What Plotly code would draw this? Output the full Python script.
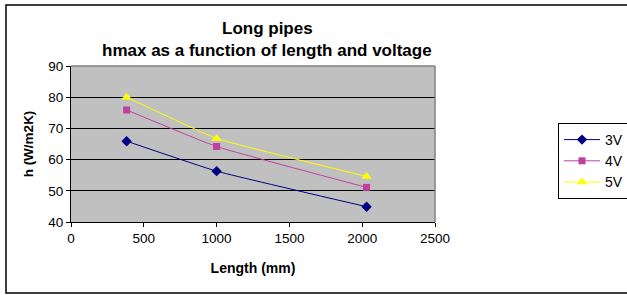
import plotly.graph_objects as go

length_mm = [382, 1000, 2030]
h_3v = [65.9, 56.3, 44.9]
h_4v = [75.9, 64.2, 51.1]
h_5v = [80.0, 66.8, 54.6]
series_names = ["3V", "4V", "5V"]

W, H = 627, 295
L, R, T, B = 71, 192, 66, 73
pw = W - L - R
ph = H - T - B

def px_to_paper_x(px):
    return (px - L) / pw

def px_to_paper_y(py):
    return (H - B - py) / ph

fig = go.Figure()
styles = [
    dict(color="#000080", symbol="diamond", size=8),
    dict(color="#C040A0", symbol="square", size=7),
    dict(color="#FFFF00", symbol="triangle-up", size=9),
]
for name, ys, st in zip(series_names, [h_3v, h_4v, h_5v], styles):
    fig.add_trace(go.Scatter(
        x=length_mm, y=ys, name=name, mode="lines+markers",
        line=dict(color=st["color"], width=1, shape="spline", smoothing=0.35),
        marker=dict(color=st["color"], symbol=st["symbol"], size=st["size"],
                    line=dict(width=0)),
    ))

font = "Arial, Liberation Sans, sans-serif"
fig.update_layout(
    width=W, height=H,
    margin=dict(l=L, r=R, t=T, b=B, autoexpand=False),
    paper_bgcolor="white",
    plot_bgcolor="#C0C0C0",
    font=dict(family=font, size=13.5, color="black"),
    showlegend=True,
    legend=dict(
        x=px_to_paper_x(558), xanchor="left",
        y=px_to_paper_y(123), yanchor="top",
        bordercolor="black", borderwidth=1,
        bgcolor="white",
        font=dict(size=14),
        itemwidth=36,
        tracegroupgap=0,
    ),
    xaxis=dict(
        range=[0, 2500], tickvals=[0, 500, 1000, 1500, 2000, 2500],
        showgrid=False, zeroline=False,
        showline=True, linecolor="black", linewidth=1,
        ticks="outside", ticklen=4, tickcolor="black",
        title=dict(text="<b>Length (mm)</b>", font=dict(size=14), standoff=17),
    ),
    yaxis=dict(
        range=[40, 90], tickvals=[40, 50, 60, 70, 80, 90],
        showgrid=True, gridcolor="black", gridwidth=1,
        zeroline=False,
        showline=True, linecolor="black", linewidth=1,
        ticks="outside", ticklen=4, tickcolor="black",
        title=dict(text="<b>h (W/m2K)</b>", font=dict(size=13.5), standoff=11),
    ),
    annotations=[
        dict(text="<b>Long pipes</b>", xref="paper", yref="paper",
             x=px_to_paper_x(267), y=px_to_paper_y(28), showarrow=False,
             xanchor="center", yanchor="middle", font=dict(size=17)),
        dict(text="<b>hmax as a function of length and voltage</b>", xref="paper", yref="paper",
             x=px_to_paper_x(267), y=px_to_paper_y(51), showarrow=False,
             xanchor="center", yanchor="middle", font=dict(size=17)),
    ],
    shapes=[
        dict(type="rect", xref="paper", yref="paper",
             x0=px_to_paper_x(6), x1=px_to_paper_x(640),
             y0=px_to_paper_y(293), y1=px_to_paper_y(5),
             line=dict(color="black", width=1.5), fillcolor="rgba(0,0,0,0)", layer="below"),
        dict(type="line", xref="paper", yref="paper", x0=0, x1=1, y0=1, y1=1,
             line=dict(color="#808080", width=1.5), layer="above"),
        dict(type="line", xref="paper", yref="paper", x0=1, x1=1, y0=0, y1=1,
             line=dict(color="#808080", width=1.5), layer="above"),
    ],
)

fig.write_html("out.html",
               config={"displayModeBar": False},
               post_script="document.body.style.margin='0';document.body.style.overflow='hidden';")
